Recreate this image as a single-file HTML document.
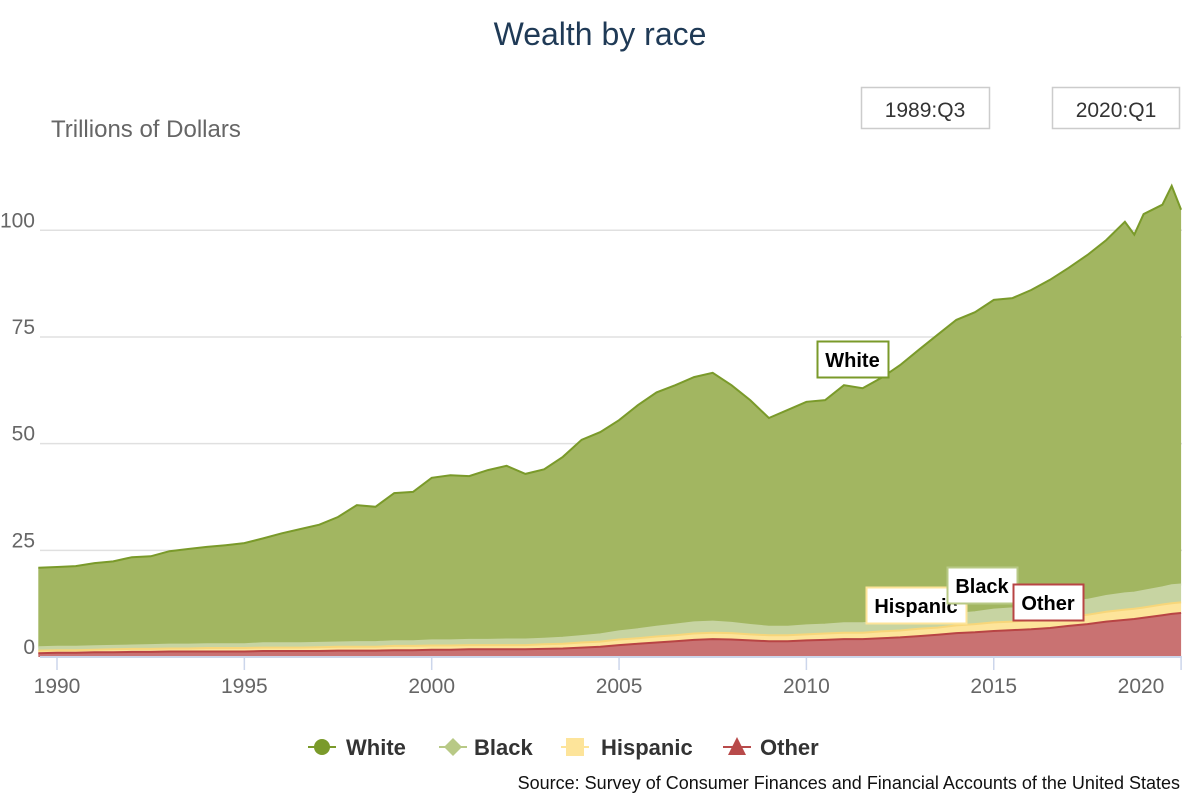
<!DOCTYPE html>
<html><head><meta charset="utf-8"><style>
body{margin:0;background:#fff;}
svg{display:block;font-family:"Liberation Sans",Arial,sans-serif;}
</style></head><body>
<svg id="chart" width="1200" height="800" viewBox="0 0 1200 800">
<text x="600" y="45" text-anchor="middle" font-size="32" fill="#1f3a56">Wealth by race</text>
<text x="51" y="137" font-size="24" fill="#666">Trillions of Dollars</text>
<g><rect x="861.5" y="87.5" width="128" height="41" fill="#fff" stroke="#ccc" stroke-width="1.5"/><text x="925" y="117" text-anchor="middle" font-size="21" fill="#333">1989:Q3</text></g>
<g><rect x="1052.5" y="87.5" width="127" height="41" fill="#fff" stroke="#ccc" stroke-width="1.5"/><text x="1116" y="117" text-anchor="middle" font-size="21" fill="#333">2020:Q1</text></g>
<g id="grid"></g><g id="areas"></g><g id="axes"></g><g id="labels"></g>
<g>
<g><line x1="308" y1="747" x2="336" y2="747" stroke="#7a9a2a" stroke-width="2"/><circle cx="322" cy="747" r="8" fill="#7a9a2a"/><text x="346" y="755" font-size="22" font-weight="bold" fill="#333">White</text></g>
<g><line x1="439" y1="747" x2="467" y2="747" stroke="#b8c986" stroke-width="2"/><path d="M453 738 L462 747 L453 756 L444 747Z" fill="#b8c986"/><text x="474" y="755" font-size="22" font-weight="bold" fill="#333">Black</text></g>
<g><line x1="561" y1="747" x2="589" y2="747" stroke="#fde49a" stroke-width="2"/><rect x="566" y="738" width="18" height="18" fill="#fde49a"/><text x="601" y="755" font-size="22" font-weight="bold" fill="#333">Hispanic</text></g>
<g><line x1="723" y1="747" x2="751" y2="747" stroke="#b84a4a" stroke-width="2"/><path d="M737 737 L746 755 L728 755Z" fill="#b84a4a"/><text x="760" y="755" font-size="22" font-weight="bold" fill="#333">Other</text></g>
</g>
<text x="1180" y="789" text-anchor="end" font-size="18" fill="#111">Source: Survey of Consumer Finances and Financial Accounts of the United States</text>
</svg>
<script>
const dates=[1989.5,1990,1990.5,1991,1991.5,1992,1992.5,1993,1993.5,1994,1994.5,1995,1995.5,1996,1996.5,1997,1997.5,1998,1998.5,1999,1999.5,2000,2000.5,2001,2001.5,2002,2002.5,2003,2003.5,2004,2004.5,2005,2005.5,2006,2006.5,2007,2007.5,2008,2008.5,2009,2009.5,2010,2010.5,2011,2011.5,2012,2012.5,2013,2013.5,2014,2014.5,2015,2015.5,2016,2016.5,2017,2017.5,2018,2018.5,2018.75,2019,2019.5,2019.75,2020];
const total=[20.9,21.1,21.3,22,22.4,23.4,23.6,24.8,25.3,25.8,26.2,26.7,27.8,29,30,31,32.8,35.6,35.2,38.4,38.7,42,42.6,42.4,43.8,44.8,42.9,44,46.9,50.9,52.7,55.5,59,62,63.7,65.6,66.6,63.7,60.2,56,57.9,59.8,60.2,63.7,63,65.4,68.4,72,75.5,79,80.8,83.7,84.1,86,88.4,91.2,94.2,97.7,102,99,103.8,106,110.4,104.8];
const other=[0.9,1.0,1.0,1.1,1.1,1.2,1.2,1.3,1.3,1.3,1.3,1.3,1.4,1.4,1.4,1.4,1.5,1.5,1.5,1.6,1.6,1.7,1.7,1.8,1.8,1.8,1.8,1.9,2.0,2.2,2.4,2.8,3.1,3.4,3.7,4.0,4.2,4.1,3.9,3.7,3.7,3.9,4.0,4.2,4.2,4.4,4.6,4.9,5.2,5.6,5.8,6.1,6.3,6.5,6.8,7.3,7.7,8.3,8.7,8.9,9.2,9.8,10.1,10.3];
const hispanic=[0.6,0.6,0.6,0.6,0.7,0.7,0.7,0.7,0.7,0.8,0.8,0.8,0.8,0.8,0.8,0.9,0.9,0.9,0.9,1.0,1.0,1.0,1.0,1.0,1.0,1.0,1.0,1.1,1.1,1.2,1.2,1.3,1.3,1.4,1.4,1.5,1.5,1.5,1.4,1.4,1.4,1.4,1.5,1.5,1.5,1.6,1.6,1.7,1.7,1.8,1.9,2.0,2.0,2.1,2.1,2.2,2.2,2.3,2.4,2.4,2.4,2.5,2.5,2.5];
const black=[0.8,0.8,0.8,0.8,0.8,0.8,0.9,0.9,0.9,0.9,0.9,0.9,1.0,1.0,1.0,1.0,1.0,1.1,1.1,1.1,1.1,1.2,1.2,1.2,1.2,1.3,1.3,1.3,1.4,1.5,1.7,1.9,2.1,2.3,2.5,2.6,2.6,2.4,2.2,2.0,2.0,2.1,2.1,2.2,2.2,2.3,2.4,2.5,2.6,2.7,2.8,3.0,3.1,3.2,3.3,3.4,3.5,3.7,3.8,3.8,3.9,4.0,4.2,4.2];
const yTicks=[0,25,50,75,100];
const xTicks=[1990,1995,2000,2005,2010,2015,2020];
const NS="http://www.w3.org/2000/svg";
const X=d=>57+(d-1990)*37.47;
const Y=v=>657-v*4.267;
function mk(tag,attrs,parent){const e=document.createElementNS(NS,tag);for(const k in attrs)e.setAttribute(k,attrs[k]);parent.appendChild(e);return e;}
const grid=document.getElementById('grid'),areas=document.getElementById('areas'),axes=document.getElementById('axes'),labels=document.getElementById('labels');
yTicks.forEach(t=>{
  const l=mk('line',{x1:40,x2:1182,y1:Y(t),y2:Y(t),stroke:'#e0e0e0','stroke-width':1.5},grid);
  
  
  const tx=mk('text',{x:35,y:Y(t)-3,'text-anchor':'end','font-size':21,fill:'#666'},grid);
  tx.textContent=t;
  
  
});
const b1=other.map(v=>v);
const b2=other.map((v,i)=>v+hispanic[i]);
const b3=b2.map((v,i)=>v+black[i]);
function areaPath(top,bot){let d='';top.forEach((v,i)=>{d+=(i?'L':'M')+X(dates[i]).toFixed(1)+' '+Y(v).toFixed(1);});for(let i=bot.length-1;i>=0;i--)d+='L'+X(dates[i]).toFixed(1)+' '+Y(bot[i]).toFixed(1);return d+'Z';}
function linePath(top){return top.map((v,i)=>(i?'L':'M')+X(dates[i]).toFixed(1)+' '+Y(v).toFixed(1)).join('');}
const zero=dates.map(()=>0);
const series=[
 {name:'area-white',top:total,bot:b3,fill:'#a2b661',stroke:'#7a9a2a'},
 {name:'area-black',top:b3,bot:b2,fill:'#c7d4a2',stroke:'#c7d4a2'},
 {name:'area-hispanic',top:b2,bot:b1,fill:'#fde49a',stroke:'#f7d67a'},
 {name:'area-other',top:b1,bot:zero,fill:'#c97272',stroke:'#b84444'}
];
series.forEach(s=>{
  const a=mk('path',{d:areaPath(s.top,s.bot),fill:s.fill},areas);
  
  
  const l=mk('path',{d:linePath(s.top),fill:'none',stroke:s.stroke,'stroke-width':2},areas);
  
  
});
const ax=mk('line',{x1:40,x2:1182,y1:657,y2:657,stroke:'#ccd6eb','stroke-width':2},axes);


xTicks.forEach(t=>{
  const tk=mk('line',{x1:X(t),x2:X(t),y1:657,y2:670,stroke:'#ccd6eb','stroke-width':1.5},axes);
  
  
  const cx=Math.min(X(t),1141);
  const tx=mk('text',{x:cx,y:693,'text-anchor':'middle','font-size':21,fill:'#666'},axes);
  tx.textContent=t;
  
  
});
function flag(name,text,x,y,w,stroke){
  const g=mk('g',{},labels);
  
  
  mk('rect',{x:x+0.5,y:y+0.5,width:w,height:36,fill:'#fff',stroke:stroke,'stroke-width':2},g);
  const t=mk('text',{x:x+w/2,y:y+26,'text-anchor':'middle','font-size':20,'font-weight':'bold',fill:'#000'},g);
  t.textContent=text;
}
flag('label-white','White',817,341,71,'#7a9a2a');
flag('label-hispanic','Hispanic',866,587,100,'#fde49a');
flag('label-black','Black',947,567,70,'#b8c986');
flag('label-other','Other',1013,584,70,'#b84444');
</script>
</body></html>
